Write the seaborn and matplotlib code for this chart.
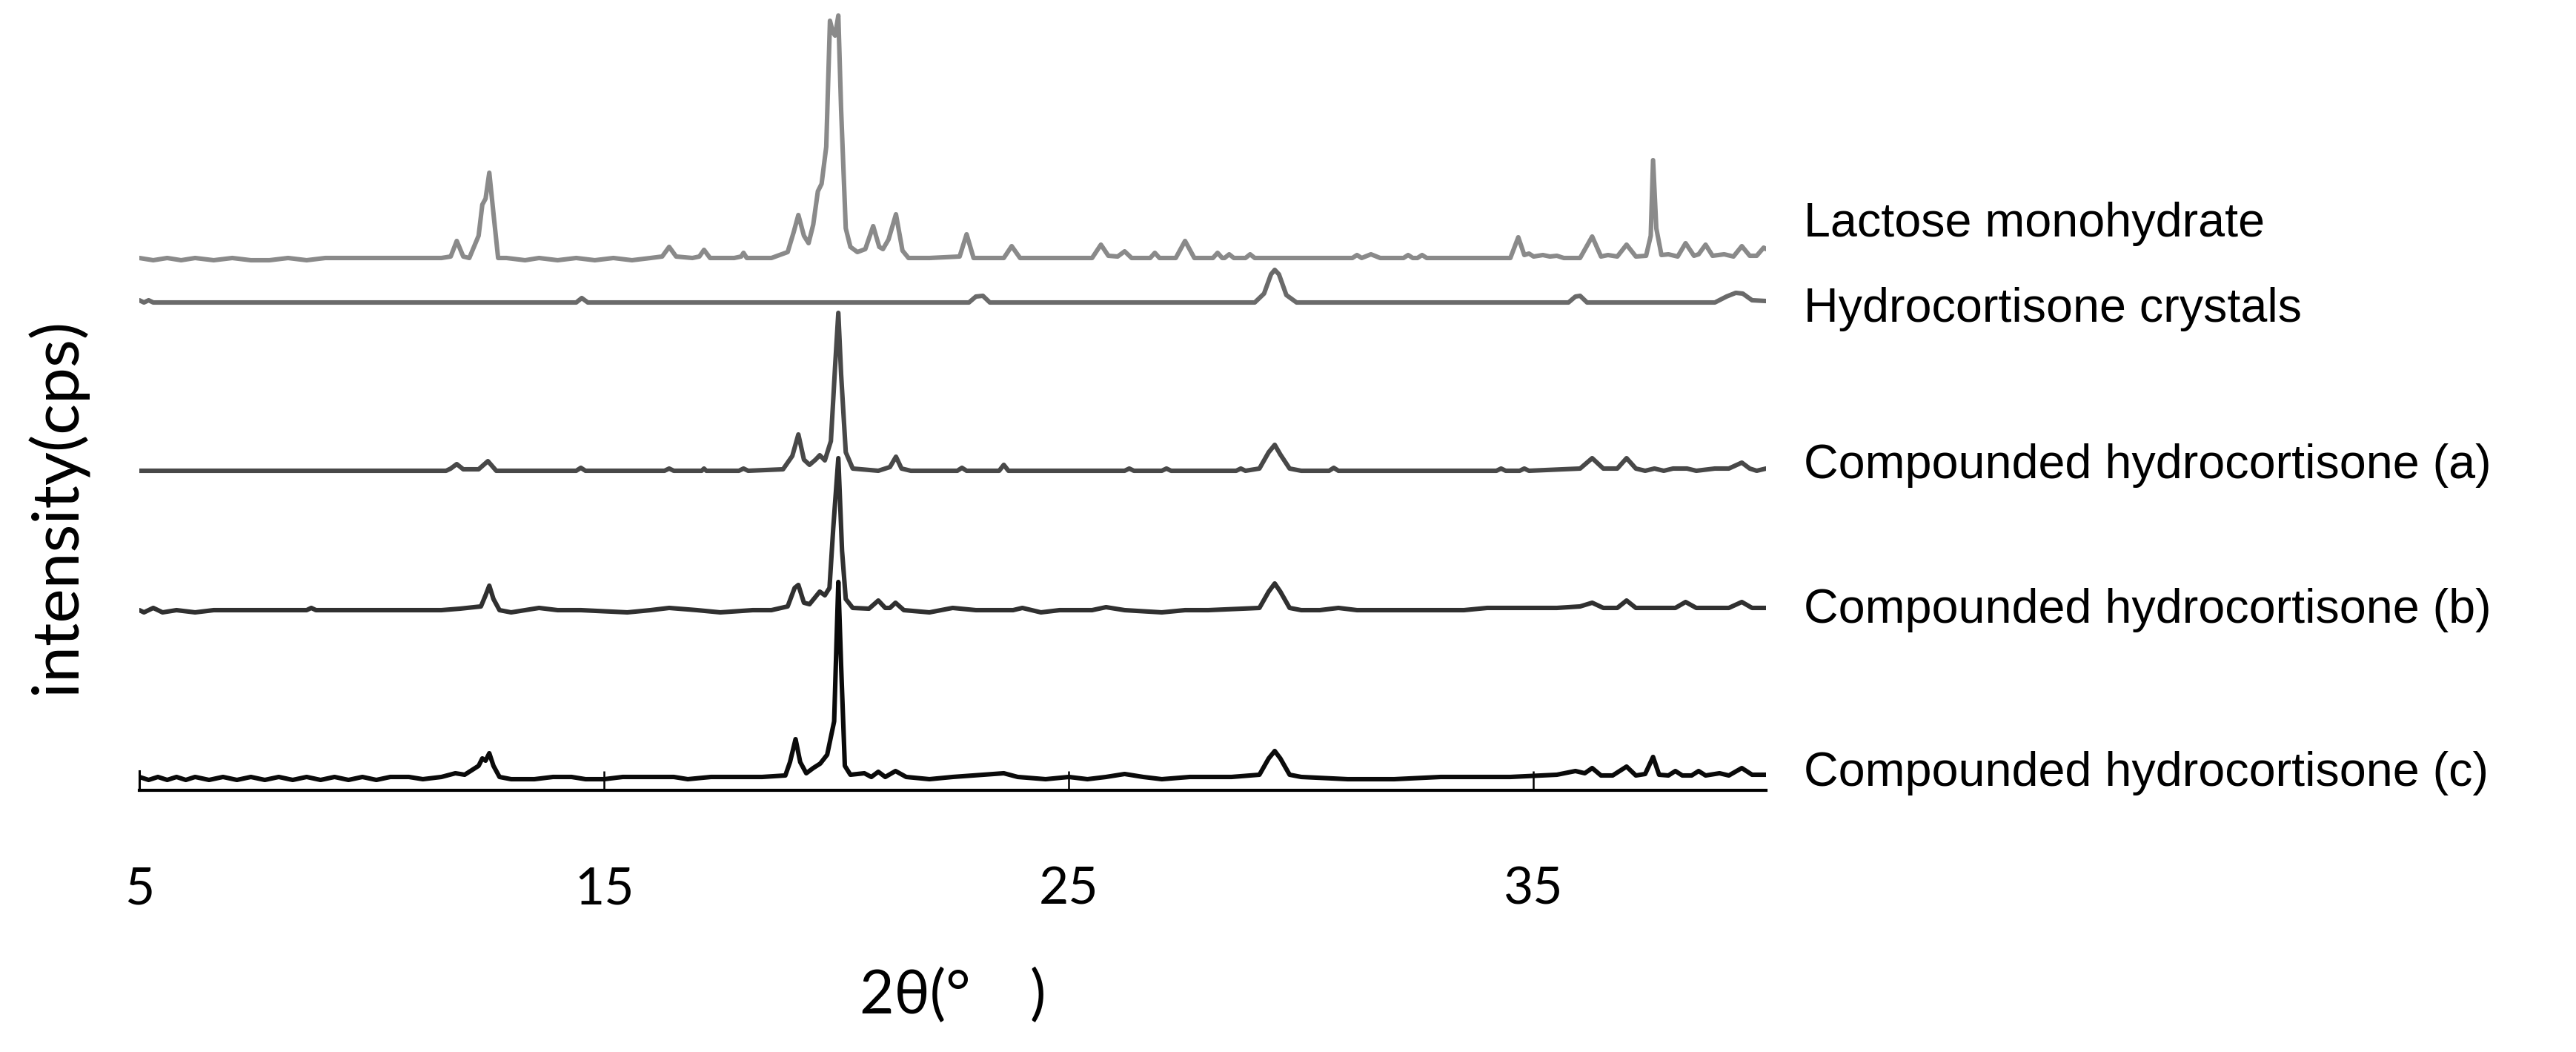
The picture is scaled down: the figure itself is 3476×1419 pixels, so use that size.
import numpy as np
import pandas as pd
import matplotlib
matplotlib.use("Agg")
import matplotlib.pyplot as plt
import seaborn as sns

# ---------------- data (2θ in degrees, intensity above each trace's baseline) -------------
LACTOSE_2THETA = [5.0, 5.3, 5.6, 5.9, 6.2, 6.6, 7.0, 7.4, 7.8, 8.2, 8.6, 9.0, 9.5, 10.0, 10.5, 11.0,
                  11.5, 11.7, 11.83, 11.97, 12.1, 12.3, 12.38, 12.45, 12.53, 12.62, 12.72, 12.9,
                  13.3, 13.6, 14.0, 14.4, 14.8, 15.2, 15.6, 16.0, 16.25, 16.4, 16.55, 16.9, 17.05,
                  17.15, 17.28, 17.8, 17.95, 18.0, 18.07, 18.6, 18.95, 19.08, 19.18, 19.3, 19.4,
                  19.5, 19.6, 19.68, 19.78, 19.86, 19.92, 19.97, 20.04, 20.1, 20.2, 20.3, 20.45,
                  20.62, 20.79, 20.92, 21.0, 21.12, 21.28, 21.42, 21.55, 22.0, 22.65, 22.8, 22.95,
                  23.6, 23.77, 23.95, 24.5, 25.5, 25.69, 25.85, 26.05, 26.2, 26.35, 26.75, 26.85,
                  26.95, 27.3, 27.5, 27.7, 28.1, 28.2, 28.3, 28.35, 28.45, 28.55, 28.8, 28.9, 29.0,
                  30.0, 31.1, 31.2, 31.3, 31.5, 31.7, 32.2, 32.3, 32.4, 32.5, 32.6, 32.7, 34.0,
                  34.5, 34.67, 34.8, 34.9, 35.0, 35.2, 35.35, 35.5, 35.65, 36.0, 36.26, 36.45,
                  36.6, 36.8, 37.0, 37.2, 37.42, 37.52, 37.57, 37.64, 37.75, 37.9, 38.1, 38.27,
                  38.45, 38.55, 38.7, 38.85, 39.1, 39.3, 39.48, 39.65, 39.8, 39.95, 40.0]
LACTOSE_INT = [0, -3, 0, -3, 0, -3, 0, -3, -3, 0, -3, 0, 0, 0, 0, 0,
               0, 2, 23, 2, 0, 30, 72, 80, 115, 60, 0, 0,
               -3, 0, -3, 0, -3, 0, -3, 0, 2, 15, 2, 0, 2,
               11, 0, 0, 2, 7, 0, 0, 8, 35, 58, 30, 20,
               45, 90, 100, 150, 320, 305, 300, 327, 200, 40, 15, 8,
               12, 43, 15, 12, 25, 59, 10, 0, 0, 2, 32, 0,
               0, 16, 0, 0, 0, 18, 3, 2, 9, 0, 0, 7,
               0, 0, 23, 0, 0, 7, 0, 0, 5, 0, 0, 5, 0,
               0, 0, 4, 0, 5, 0, 0, 4, 0, 0, 4, 0, 0,
               0, 28, 4, 6, 2, 4, 2, 3, 0, 0, 29, 2,
               4, 2, 18, 2, 3, 30, 132, 40, 4, 5, 2, 20,
               3, 5, 18, 3, 5, 2, 16, 3, 3, 14, 12]

CRYSTALS_2THETA = [5.0, 5.1, 5.2, 5.3, 6.0, 14.4, 14.52, 14.65, 22.85, 23.0, 23.15, 23.3, 29.0,
                   29.2, 29.35, 29.43, 29.52, 29.68, 29.9, 35.75, 35.9, 36.0, 36.15, 38.9, 39.15,
                   39.35, 39.5, 39.7, 40.0]
CRYSTALS_INT = [3, 0, 3, 0, 0, 0, 6, 0, 0, 8, 9, 0, 0,
                12, 38, 44, 38, 10, 0, 0, 8, 9, 0, 0, 8,
                13, 12, 3, 2]

COMP_A_2THETA = [5.0, 11.6, 11.7, 11.83, 11.97, 12.3, 12.5, 12.68, 14.4, 14.5, 14.6, 16.3, 16.4,
                 16.5, 17.1, 17.15, 17.2, 17.9, 18.0, 18.1, 18.85, 19.05, 19.18, 19.3, 19.42,
                 19.55, 19.64, 19.75, 19.88, 19.97, 20.04, 20.1, 20.2, 20.35, 20.9, 21.15, 21.28,
                 21.4, 21.6, 22.6, 22.7, 22.8, 23.5, 23.6, 23.7, 26.2, 26.3, 26.4, 27.0, 27.1,
                 27.2, 28.6, 28.7, 28.8, 29.1, 29.3, 29.43, 29.55, 29.75, 30.0, 30.6, 30.7, 30.8,
                 34.2, 34.3, 34.4, 34.7, 34.8, 34.9, 36.0, 36.26, 36.5, 36.8, 37.0, 37.2, 37.4,
                 37.6, 37.8, 38.0, 38.3, 38.5, 38.9, 39.2, 39.48, 39.65, 39.8, 40.0]
COMP_A_INT = [0, 0, 3, 9, 2, 2, 13, 0, 0, 4, 0, 0, 3,
              0, 0, 3, 0, 0, 3, 0, 2, 20, 49, 15, 8,
              15, 21, 14, 40, 140, 213, 130, 25, 3, 0, 5, 19,
              3, 0, 0, 4, 0, 0, 8, 0, 0, 3, 0, 0, 3,
              0, 0, 3, 0, 3, 25, 35, 22, 3, 0, 0, 4, 0,
              0, 3, 0, 0, 3, 0, 3, 17, 3, 3, 17, 3, 0,
              3, 0, 3, 3, 0, 3, 3, 11, 3, 0, 3]

COMP_B_2THETA = [5.0, 5.1, 5.3, 5.5, 5.8, 6.2, 6.6, 7.5, 8.6, 8.7, 8.8, 11.0, 11.5, 11.9, 12.35,
                 12.45, 12.53, 12.62, 12.75, 13.0, 13.3, 13.6, 14.0, 14.5, 15.5, 16.0, 16.4, 17.0,
                 17.5, 18.2, 18.6, 18.95, 19.1, 19.18, 19.3, 19.42, 19.55, 19.64, 19.75, 19.85,
                 19.93, 20.04, 20.12, 20.2, 20.35, 20.7, 20.9, 21.05, 21.15, 21.27, 21.45, 22.0,
                 22.5, 23.0, 23.8, 24.0, 24.4, 24.8, 25.5, 25.8, 26.2, 27.0, 27.5, 28.0, 29.1,
                 29.3, 29.43, 29.55, 29.75, 30.0, 30.4, 30.8, 31.2, 32.0, 33.5, 34.0, 35.5, 36.0,
                 36.26, 36.5, 36.8, 37.0, 37.2, 37.8, 38.05, 38.27, 38.5, 39.2, 39.48, 39.7, 40.0]
COMP_B_INT = [0, -3, 3, -3, 0, -3, 0, 0, 0, 3, 0, 0, 0, 2, 5,
              20, 33, 15, 0, -3, 0, 3, 0, 0, -3, 0, 3, 0,
              -3, 0, 0, 5, 30, 34, 10, 8, 18, 25, 20, 30,
              110, 205, 80, 15, 3, 2, 13, 3, 3, 10, 0, -3,
              3, 0, 0, 3, -3, 0, 0, 4, 0, -3, 0, 0, 3,
              25, 36, 25, 3, 0, 0, 3, 0, 0, 0, 3, 3, 5,
              10, 3, 3, 13, 3, 3, 3, 11, 3, 3, 11, 3, 3]

COMP_C_2THETA = [5.0, 5.2, 5.4, 5.6, 5.8, 6.0, 6.2, 6.5, 6.8, 7.1, 7.4, 7.7, 8.0, 8.3, 8.6, 8.9,
                 9.2, 9.5, 9.8, 10.1, 10.4, 10.8, 11.1, 11.5, 11.8, 12.0, 12.3, 12.38, 12.45, 12.53,
                 12.62, 12.75, 13.0, 13.5, 13.9, 14.3, 14.6, 15.0, 15.4, 16.5, 16.8, 17.3, 17.8,
                 18.4, 18.9, 19.0, 19.12, 19.22, 19.35, 19.5, 19.65, 19.8, 19.9, 19.95, 20.0, 20.04,
                 20.1, 20.18, 20.3, 20.6, 20.75, 20.9, 21.05, 21.27, 21.5, 22.0, 22.5, 23.6, 23.9,
                 24.5, 25.0, 25.4, 25.8, 26.2, 26.6, 27.0, 27.6, 28.5, 29.1, 29.3, 29.43, 29.55,
                 29.75, 30.0, 31.0, 32.0, 33.0, 34.5, 35.5, 35.9, 36.1, 36.26, 36.45, 36.7, 37.0,
                 37.2, 37.4, 37.57, 37.7, 37.9, 38.05, 38.2, 38.4, 38.55, 38.7, 39.0, 39.2, 39.48,
                 39.7, 40.0]
COMP_C_INT = [0, -4, 0, -4, 0, -4, 0, -4, 0, -4, 0, -4, 0, -4, 0, -4,
              0, -4, 0, -4, 0, 0, -3, 0, 5, 3, 15, 25, 22, 32,
              15, 0, -3, -3, 0, 0, -3, -3, 0, 0, -3, 0, 0,
              0, 2, 20, 51, 20, 5, 12, 18, 30, 60, 75, 180, 263,
              150, 15, 3, 5, 0, 7, 0, 8, 0, -3, 0, 5, 0,
              -3, 0, -3, 0, 4, 0, -3, 0, 0, 3, 25, 35, 25,
              3, 0, -3, -3, 0, 0, 3, 8, 5, 12, 2, 2, 14,
              2, 4, 27, 3, 2, 8, 2, 2, 8, 2, 5, 2, 12,
              3, 3]

SERIES_NAMES = ["Lactose monohydrate", "Hydrocortisone crystals",
                "Compounded hydrocortisone (a)", "Compounded hydrocortisone (b)",
                "Compounded hydrocortisone (c)"]
X_TICKS = [5, 15, 25, 35]
X_LABEL = "2θ(°\u2002\u2002)"
Y_LABEL = "intensity(cps)"

# ---------------- layout / style ----------------
OFFSETS = [718, 658, 431, 243, 18]
LABEL_Y = [747, 632, 421, 226, 6]
COLORS = ["#8a8a8a", "#6a6a6a", "#484848", "#303030", "#0a0a0a"]

sns.set_theme(style="white")
plt.rcParams["font.family"] = ["Lato", "DejaVu Sans"]

W, H = 3476, 1419
fig = plt.figure(figsize=(W / 100, H / 100), dpi=100)
ax = fig.add_axes([188 / W, 353 / H, 2195 / W, 1066 / H])

xs = [LACTOSE_2THETA, CRYSTALS_2THETA, COMP_A_2THETA, COMP_B_2THETA, COMP_C_2THETA]
ys = [LACTOSE_INT, CRYSTALS_INT, COMP_A_INT, COMP_B_INT, COMP_C_INT]

for name, x, y, off, col in zip(SERIES_NAMES, xs, ys, OFFSETS, COLORS):
    df = pd.DataFrame({"two_theta": x, "intensity": np.asarray(y, float) + off})
    sns.lineplot(data=df, x="two_theta", y="intensity", ax=ax, color=col,
                 linewidth=4.4, estimator=None, sort=False, legend=False)

for name, ly in zip(SERIES_NAMES, LABEL_Y):
    ax.text(40.82, ly, name, fontsize=46.5, ha="left", va="baseline", color="black",
            family=["Liberation Sans", "DejaVu Sans"], clip_on=False)

ax.set_xlim(5, 40)
ax.set_ylim(0, 1066)
ax.set_xticks(X_TICKS)
ax.set_xticklabels([str(t) for t in X_TICKS])
ax.set_yticks([])
for s in ["top", "right"]:
    ax.spines[s].set_visible(False)
ax.spines["bottom"].set_linewidth(3.0)
ax.spines["bottom"].set_color("black")
ax.spines["left"].set_linewidth(2.2)
ax.spines["left"].set_color("black")
ax.spines["left"].set_bounds(0, 26)
ax.tick_params(axis="x", direction="in", length=19, width=1.8, pad=74,
               labelsize=50, colors="black", bottom=True)

ax.set_xlabel(X_LABEL, fontsize=58, color="black")
ax.xaxis.label.set_va("center")
ax.xaxis.set_label_coords(0.5, -(1343 - 1066) / 1066)
ax.set_ylabel(Y_LABEL, fontsize=63, color="black")
ax.yaxis.label.set_va("center")
ax.yaxis.set_label_coords(-(188 - 76) / 2195, (1066 - 682) / 1066)

fig.savefig("out.png", dpi=100, facecolor="white")
